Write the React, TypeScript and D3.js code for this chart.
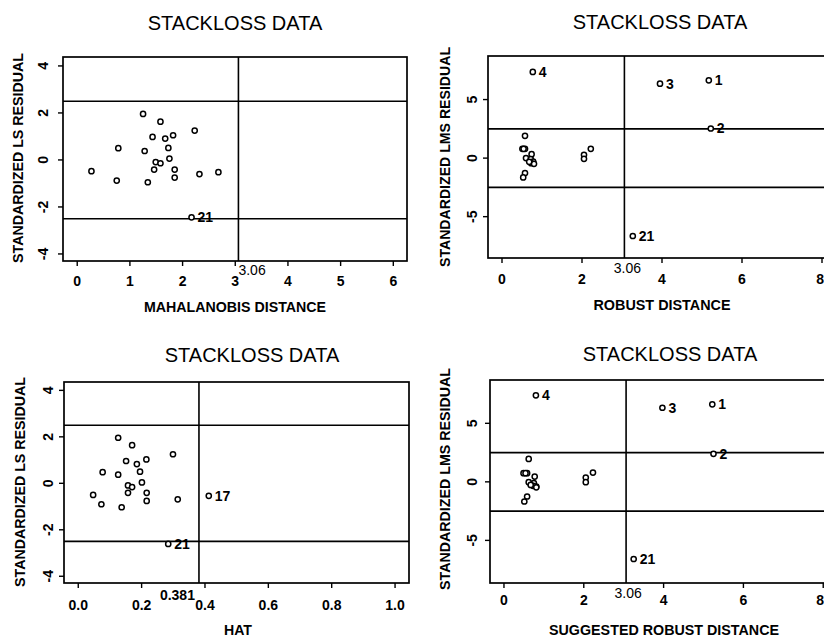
import * as d3 from 'd3';

const mahalDist = [1.25, 1.58, 2.23, 1.43, 1.82, 1.67, 0.78, 1.28, 1.73, 1.49, 1.58, 1.75, 0.27, 1.46, 1.85, 2.32, 2.68, 0.75, 1.34, 1.85, 2.17];
const lsResidA = [1.96, 1.63, 1.25, 0.98, 1.05, 0.91, 0.5, 0.38, 0.51, -0.09, -0.14, 0.06, -0.48, -0.41, -0.41, -0.6, -0.52, -0.88, -0.95, -0.75, -2.44];
const lsLabelsA = ['', '', '', '', '', '', '', '', '', '', '', '', '', '', '', '', '', '', '', '', '21'];

const hatValues = [0.126, 0.17, 0.299, 0.151, 0.215, 0.185, 0.077, 0.126, 0.195, 0.157, 0.17, 0.201, 0.047, 0.157, 0.216, 0.314, 0.412, 0.073, 0.137, 0.216, 0.284];
const lsResidB = [1.96, 1.64, 1.25, 0.96, 1.03, 0.83, 0.48, 0.37, 0.5, -0.09, -0.16, 0.04, -0.5, -0.41, -0.41, -0.69, -0.54, -0.9, -1.03, -0.76, -2.61];
const lsLabelsB = ['', '', '', '', '', '', '', '', '', '', '', '', '', '', '', '', '17', '', '', '', '21'];

const robustDist = [5.17, 5.22, 3.95, 0.77, 0.575, 0.51, 0.575, 0.54, 0.74, 0.6, 0.72, 0.78, 0.73, 0.8, 0.68, 0.575, 0.53, 2.05, 2.05, 2.22, 3.27];
const lmsResidA = [6.64, 2.53, 6.36, 7.36, 1.9, 0.79, 0.79, 0.79, 0.34, 0.0, -0.09, -0.29, -0.43, -0.49, -0.32, -1.28, -1.65, 0.28, -0.06, 0.79, -6.65];

const suggestedDist = [5.22, 5.25, 3.97, 0.8, 0.62, 0.49, 0.58, 0.54, 0.77, 0.62, 0.75, 0.81, 0.73, 0.81, 0.67, 0.58, 0.51, 2.05, 2.05, 2.23, 3.25];
const lmsResidB = [6.62, 2.39, 6.33, 7.39, 1.96, 0.74, 0.74, 0.74, 0.45, -0.03, -0.11, -0.4, -0.34, -0.47, -0.26, -1.25, -1.68, 0.37, -0.03, 0.79, -6.59];
const lmsLabels = ['1', '2', '3', '4', '', '', '', '', '', '', '', '', '', '', '', '', '', '', '', '', '21'];

const TITLE = 'STACKLOSS DATA';
const LS_TICKS = [-4, -2, 0, 2, 4];
const LMS_TICKS = [-5, 0, 5];
const DIST_TICKS_A = [0, 1, 2, 3, 4, 5, 6];
const DIST_TICKS_B = [0, 2, 4, 6, 8];
const HAT_TICKS = [0, 0.2, 0.4, 0.6, 0.8, 1.0];
const RESID_CUTOFF = 2.5;

const FONT = '"Liberation Sans", Arial, Helvetica, sans-serif';
const W = 824;
const H = 639;

type Panel = {
  xs: number[];
  ys: number[];
  labels: string[];
  box: [number, number, number, number]; // left, right, top, bottom
  xDomain: [number, number];
  yDomain: [number, number];
  xTicks: number[];
  yTicks: number[];
  xFmt: (v: number) => string;
  cutoff: number;
  cutoffText: string;
  cutoffAnchor: 'start' | 'middle' | 'end';
  cutoffDx: number;
  cutoffY: number;
  cutoffBold: boolean;
  title: [number, number];
  xTitle: string;
  xTitlePos: [number, number, number];
  yTitle: string;
  yTitlePos: [number, number, number];
  xTickY: number;
  yTickX: number;
};

const panels: Panel[] = [
  {
    xs: mahalDist, ys: lsResidA, labels: lsLabelsA,
    box: [63, 407, 57, 261], xDomain: [-0.27, 6.26], yDomain: [-4.3, 4.38],
    xTicks: DIST_TICKS_A, yTicks: LS_TICKS, xFmt: (v) => String(v),
    cutoff: 3.06, cutoffText: '3.06', cutoffAnchor: 'start', cutoffDx: 0, cutoffY: 275, cutoffBold: false,
    title: [235, 30], xTitle: 'MAHALANOBIS DISTANCE', xTitlePos: [235, 312, 182],
    yTitle: 'STANDARDIZED LS RESIDUAL', yTitlePos: [23, 158, 210], xTickY: 286, yTickX: 48,
  },
  {
    xs: robustDist, ys: lmsResidA, labels: lmsLabels,
    box: [488, 838, 56, 258], xDomain: [-0.35, 8.4], yDomain: [-8.53, 8.72],
    xTicks: DIST_TICKS_B, yTicks: LMS_TICKS, xFmt: (v) => String(v),
    cutoff: 3.06, cutoffText: '3.06', cutoffAnchor: 'middle', cutoffDx: 3, cutoffY: 273, cutoffBold: false,
    title: [660, 29], xTitle: 'ROBUST DISTANCE', xTitlePos: [662, 310, 137],
    yTitle: 'STANDARDIZED LMS RESIDUAL', yTitlePos: [450, 157, 220], xTickY: 284, yTickX: 477,
  },
  {
    xs: hatValues, ys: lsResidB, labels: lsLabelsB,
    box: [64, 409, 382, 583], xDomain: [-0.045, 1.044], yDomain: [-4.29, 4.36],
    xTicks: HAT_TICKS, yTicks: LS_TICKS, xFmt: d3.format('.1f'),
    cutoff: 0.381, cutoffText: '0.381', cutoffAnchor: 'end', cutoffDx: -4, cutoffY: 600, cutoffBold: true,
    title: [252, 362], xTitle: 'HAT', xTitlePos: [238, 635, 28],
    yTitle: 'STANDARDIZED LS RESIDUAL', yTitlePos: [25, 482, 210], xTickY: 610, yTickX: 53,
  },
  {
    xs: suggestedDist, ys: lmsResidB, labels: lmsLabels,
    box: [490, 838, 380, 583], xDomain: [-0.35, 8.37], yDomain: [-8.64, 8.7],
    xTicks: DIST_TICKS_B, yTicks: LMS_TICKS, xFmt: (v) => String(v),
    cutoff: 3.06, cutoffText: '3.06', cutoffAnchor: 'middle', cutoffDx: 2, cutoffY: 598, cutoffBold: false,
    title: [670, 361], xTitle: 'SUGGESTED ROBUST DISTANCE', xTitlePos: [664, 635, 230],
    yTitle: 'STANDARDIZED LMS RESIDUAL', yTitlePos: [450, 479, 222], xTickY: 605, yTickX: 477,
  },
];

function DiagnosticPanel({ p }: { p: Panel }) {
  const [left, right, top, bottom] = p.box;
  const x = d3.scaleLinear().domain(p.xDomain).range([left, right]);
  const y = d3.scaleLinear().domain(p.yDomain).range([bottom, top]);
  const cx = x(p.cutoff);

  return (
    <g>
      <text x={p.title[0]} y={p.title[1]} textAnchor="middle" fontSize={20}>{TITLE}</text>

      {/* frame and cut-off lines */}
      <rect x={left} y={top} width={right - left} height={bottom - top} fill="none" stroke="#000" strokeWidth={1.7} />
      {[RESID_CUTOFF, -RESID_CUTOFF].map((v) => (
        <line key={v} x1={left} x2={right} y1={y(v)} y2={y(v)} stroke="#000" strokeWidth={1.6} />
      ))}
      <line x1={cx} x2={cx} y1={top} y2={bottom} stroke="#000" strokeWidth={1.6} />
      <text x={cx + p.cutoffDx} y={p.cutoffY} textAnchor={p.cutoffAnchor} fontSize={14}
        fontWeight={p.cutoffBold ? 'bold' : 'normal'}>{p.cutoffText}</text>

      {/* x axis */}
      {p.xTicks.map((t) => {
        const tx = x(t);
        // keep a label that would run off the page's right edge inside it
        const atEdge = tx + 4 > W;
        return (
          <g key={t}>
            <line x1={tx} x2={tx} y1={bottom} y2={bottom + 5} stroke="#000" strokeWidth={1.4} />
            <text x={atEdge ? W : tx} y={p.xTickY} textAnchor={atEdge ? 'end' : 'middle'} fontSize={14}
              fontWeight="bold">{p.xFmt(t)}</text>
          </g>
        );
      })}
      <text x={p.xTitlePos[0]} y={p.xTitlePos[1]} textAnchor="middle" fontSize={14} fontWeight="bold"
        textLength={p.xTitlePos[2]} lengthAdjust="spacingAndGlyphs">{p.xTitle}</text>

      {/* y axis */}
      {p.yTicks.map((t) => (
        <g key={t}>
          <line x1={left - 5} x2={left} y1={y(t)} y2={y(t)} stroke="#000" strokeWidth={1.4} />
          <text transform={`translate(${p.yTickX},${y(t)}) rotate(-90)`} textAnchor="middle" fontSize={14}
            fontWeight="bold">{t}</text>
        </g>
      ))}
      <text transform={`translate(${p.yTitlePos[0]},${p.yTitlePos[1]}) rotate(-90)`} textAnchor="middle"
        fontSize={14} fontWeight="bold" textLength={p.yTitlePos[2]} lengthAdjust="spacingAndGlyphs">{p.yTitle}</text>

      {/* points */}
      {p.xs.map((v, i) => (
        <g key={i}>
          <circle cx={x(v)} cy={y(p.ys[i])} r={2.6} fill="#fff" stroke="#000" strokeWidth={1.5} />
          {p.labels[i] && (
            <text x={x(v) + 6} y={y(p.ys[i]) + 5} fontSize={14} fontWeight="bold">{p.labels[i]}</text>
          )}
        </g>
      ))}
    </g>
  );
}

export default function App() {
  return (
    <svg width={W} height={H} style={{ position: 'absolute', left: 0, top: 0, background: '#fff' }}
      fontFamily={FONT}>
      <rect width={W} height={H} fill="#fff" />
      {panels.map((p, i) => <DiagnosticPanel key={i} p={p} />)}
    </svg>
  );
}
